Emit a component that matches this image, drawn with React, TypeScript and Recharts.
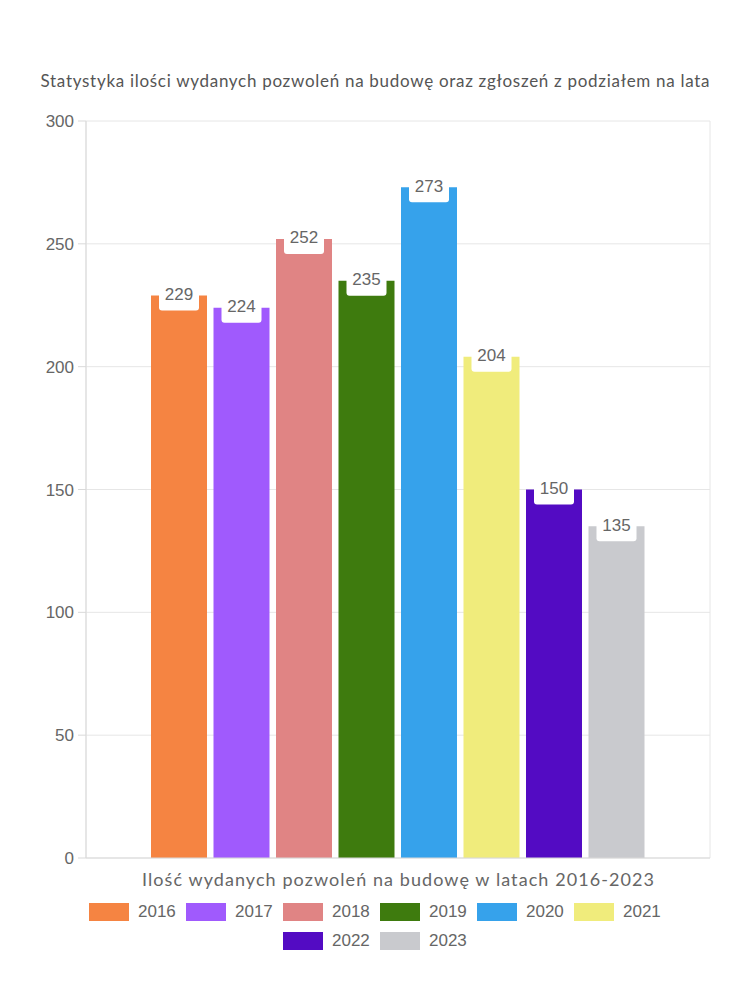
import { BarChart, Bar, XAxis, YAxis, CartesianGrid, LabelList } from 'recharts';

const YEARS = ['2016', '2017', '2018', '2019', '2020', '2021', '2022', '2023'];
const PERMITS = [229, 224, 252, 235, 273, 204, 150, 135];
const COLORS = ['#F58442', '#A05AFD', '#E08484', '#3E7B0E', '#36A2EB', '#F0EC7C', '#530BC3', '#C9CACE'];
const Y_TICKS = [0, 50, 100, 150, 200, 250, 300];

const TITLE = 'Statystyka ilości wydanych pozwoleń na budowę oraz zgłoszeń z podziałem na lata';
const X_TITLE = 'Ilość wydanych pozwoleń na budowę w latach 2016-2023';

const TEXT_FONT = 'Lato, "Noto Sans", sans-serif';
const NUM_FONT = '"Liberation Sans", Arial, sans-serif';

// one category, one bar per year
const chartData = [
  YEARS.reduce<Record<string, number | string>>(
    (row, year, i) => {
      row[year] = PERMITS[i];
      return row;
    },
    { name: 'permits' }
  ),
];

// white rounded box sitting on the bar top, like chartjs-datalabels
function ValueLabel(props: any) {
  const { x, y, width, value } = props;
  const cx = x + width / 2;
  return (
    <g>
      <rect x={cx - 20} y={y - 14} width={40} height={29} rx={3} ry={3} fill="#fff" />
      <text
        x={cx}
        y={y - 1}
        textAnchor="middle"
        dominantBaseline="central"
        fill="#666"
        fontSize={17}
        fontFamily={NUM_FONT}
      >
        {value}
      </text>
    </g>
  );
}

function AxisTitle(props: any) {
  const { viewBox } = props;
  return (
    <text
      x={viewBox.x + viewBox.width / 2}
      y={viewBox.y + 28}
      textAnchor="middle"
      fill="#666"
      fontSize={18}
      fontFamily={TEXT_FONT}
      textLength={512}
      lengthAdjust="spacing"
    >
      {X_TITLE}
    </text>
  );
}

export default function App() {
  return (
    <div style={{ position: 'absolute', left: 0, top: 0, width: 750, height: 1000, background: '#fff' }}>
      <svg width={750} height={100} style={{ position: 'absolute', left: 0, top: 0 }}>
        <text
          x={375}
          y={87}
          textAnchor="middle"
          fill="#555"
          fontSize={17}
          fontFamily={TEXT_FONT}
          textLength={669}
          lengthAdjust="spacing"
        >
          {TITLE}
        </text>
      </svg>
      <BarChart
        width={750}
        height={1000}
        data={chartData}
        margin={{ top: 121, right: 40, left: 0, bottom: 112 }}
        barSize={56}
        barGap={6.5}
        style={{ position: 'absolute', left: 0, top: 0 }}
      >
        <CartesianGrid
          stroke="#e6e6e6"
          verticalCoordinatesGenerator={({ offset }: any) => [offset.left, offset.left + offset.width]}
        />
        <XAxis
          dataKey="name"
          height={30}
          tick={false}
          tickLine={false}
          axisLine={{ stroke: '#d9d9d9' }}
          label={<AxisTitle />}
        />
        <YAxis
          width={86}
          domain={[0, 300]}
          ticks={Y_TICKS}
          interval={0}
          tickSize={8}
          tickMargin={4}
          axisLine={{ stroke: '#d9d9d9' }}
          tickLine={{ stroke: '#d9d9d9' }}
          tick={{ fill: '#666', fontSize: 17, fontFamily: NUM_FONT }}
        />
        {YEARS.map((year, i) => (
          <Bar key={year} dataKey={year} fill={COLORS[i]} isAnimationActive={false}>
            <LabelList dataKey={year} content={<ValueLabel />} />
          </Bar>
        ))}
      </BarChart>
      <div
        style={{
          position: 'absolute',
          top: 902,
          left: 75,
          width: 600,
          display: 'flex',
          flexWrap: 'wrap',
          justifyContent: 'center',
          rowGap: 9,
          fontFamily: NUM_FONT,
          fontSize: 17,
          color: '#666',
        }}
      >
        {YEARS.map((year, i) => (
          <div key={year} style={{ display: 'flex', alignItems: 'center', margin: '0 5px' }}>
            <span style={{ width: 40, height: 18, background: COLORS[i], marginRight: 9, display: 'inline-block' }} />
            <span style={{ width: 38 }}>{year}</span>
          </div>
        ))}
      </div>
    </div>
  );
}
